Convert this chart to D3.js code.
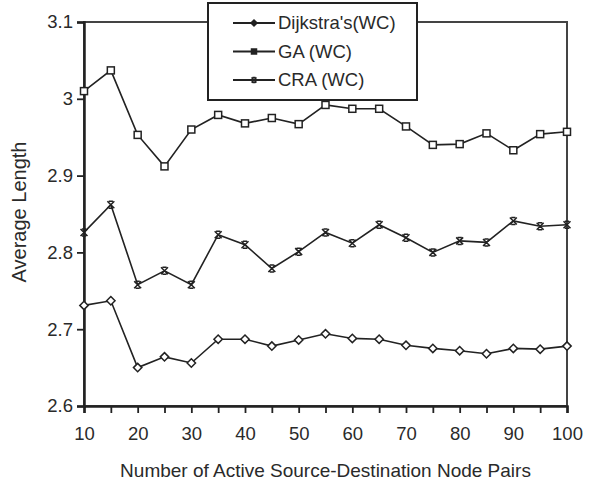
<!DOCTYPE html>
<html>
<head>
<meta charset="utf-8">
<script src="https://cdn.jsdelivr.net/npm/d3@7"></script>
<style>
  html, body { margin: 0; padding: 0; background: #fff; }
  svg { display: block; font-family: "Liberation Sans", Arial, sans-serif; }
</style>
</head>
<body>
<svg id="chart" width="592" height="486"></svg>
<script>
// data
const pairs = [10, 15, 20, 25, 30, 35, 40, 45, 50, 55, 60, 65, 70, 75, 80, 85, 90, 95, 100];
const dijkstra = [2.731, 2.737, 2.650, 2.664, 2.656, 2.687, 2.687, 2.678, 2.686, 2.694, 2.688, 2.687, 2.679, 2.675, 2.672, 2.668, 2.675, 2.674, 2.678];
const ga = [3.010, 3.037, 2.953, 2.912, 2.960, 2.979, 2.968, 2.975, 2.967, 2.992, 2.987, 2.987, 2.964, 2.940, 2.941, 2.955, 2.933, 2.954, 2.957];
const cra = [2.826, 2.862, 2.758, 2.776, 2.758, 2.823, 2.810, 2.779, 2.801, 2.826, 2.812, 2.836, 2.819, 2.800, 2.815, 2.813, 2.841, 2.834, 2.836];
const yTicks = [2.6, 2.7, 2.8, 2.9, 3.0, 3.1];
const xTicks = [10, 20, 30, 40, 50, 60, 70, 80, 90, 100];

const seriesList = [
  { name: "Dijkstra's(WC)", values: dijkstra, marker: 'diamond' },
  { name: 'GA (WC)', values: ga, marker: 'square' },
  { name: 'CRA (WC)', values: cra, marker: 'cross' }
];

const svg = d3.select('#chart');
const margin = { top: 22, right: 25, bottom: 80, left: 84 };
const width = 592 - margin.left - margin.right;
const height = 486 - margin.top - margin.bottom;
const ink = '#222';

const x = d3.scaleLinear().domain([10, 100]).range([0, width]);
const y = d3.scaleLinear().domain([2.6, 3.1]).range([height, 0]);

const g = svg.append('g').attr('transform', `translate(${margin.left},${margin.top})`);

// plot frame (top and right edges)
g.append('rect')
  .attr('x', 0).attr('y', 0)
  .attr('width', width).attr('height', height)
  .attr('fill', 'none').attr('stroke', '#444').attr('stroke-width', 2);

// x axis, ticks every 5, labels every 10
const xAxis = g.append('g')
  .attr('transform', `translate(0,${height})`)
  .call(d3.axisBottom(x)
    .tickValues(pairs)
    .tickSize(7)
    .tickPadding(14)
    .tickFormat(d => xTicks.includes(d) ? d : ''));

const yAxis = g.append('g')
  .call(d3.axisLeft(y)
    .tickValues(yTicks)
    .tickSize(7)
    .tickPadding(4)
    .tickFormat(d3.format('~g')));

[xAxis, yAxis].forEach(ax => {
  ax.select('.domain').attr('stroke', ink).attr('stroke-width', 2.5);
  ax.selectAll('.tick line').attr('stroke', ink).attr('stroke-width', 1.8);
  ax.selectAll('.tick text')
    .attr('fill', '#2a2a2a')
    .style('font-size', '18.5px')
    .style('font-family', '"Liberation Sans", Arial, sans-serif');
});

// axis titles
svg.append('text')
  .attr('x', margin.left + width / 2)
  .attr('y', 477)
  .attr('text-anchor', 'middle')
  .attr('fill', '#2a2a2a')
  .style('font-size', '19px')
  .text('Number of Active Source-Destination Node Pairs');

svg.append('text')
  .attr('transform', 'translate(26,212) rotate(-90)')
  .attr('text-anchor', 'middle')
  .attr('fill', '#2a2a2a')
  .style('font-size', '20px')
  .text('Average Length');

// marker shapes
function drawMarker(sel, type, size, fill) {
  if (type === 'square') {
    sel.append('rect')
      .attr('x', -size / 2).attr('y', -size / 2)
      .attr('width', size).attr('height', size)
      .attr('fill', fill).attr('stroke', ink).attr('stroke-width', 1.5);
  } else if (type === 'diamond') {
    const s = size * 0.6;
    sel.append('path')
      .attr('d', `M0,${-s}L${s},0L0,${s}L${-s},0Z`)
      .attr('fill', fill).attr('stroke', ink).attr('stroke-width', 1.5);
  } else {
    const s = size / 2;
    sel.append('path')
      .attr('d', `M${-s},${-s}L${s},${s}M${-s},${s}L${s},${-s}M${-s * 0.6},${-s}H${s * 0.6}M${-s * 0.6},${s}H${s * 0.6}`)
      .attr('fill', 'none').attr('stroke', ink).attr('stroke-width', 1.5);
  }
}

const line = d3.line()
  .x((d, i) => x(pairs[i]))
  .y(d => y(d));

seriesList.forEach(s => {
  g.append('path')
    .datum(s.values)
    .attr('d', line)
    .attr('fill', 'none')
    .attr('stroke', ink)
    .attr('stroke-width', 1.6);

  g.selectAll(null)
    .data(s.values)
    .join('g')
    .attr('transform', (d, i) => `translate(${x(pairs[i])},${y(d)})`)
    .each(function() { drawMarker(d3.select(this), s.marker, 7, '#fff'); });
});

// legend box over the top edge
const legend = svg.append('g').attr('transform', 'translate(208,3)');
legend.append('rect')
  .attr('width', 209).attr('height', 97)
  .attr('fill', '#fff').attr('stroke', ink).attr('stroke-width', 2);

seriesList.forEach((s, i) => {
  const row = legend.append('g').attr('transform', `translate(0,${20 + i * 28.5})`);
  row.append('line')
    .attr('x1', 25).attr('x2', 67)
    .attr('stroke', ink).attr('stroke-width', 1.8);
  const m = row.append('g').attr('transform', 'translate(46,0)');
  drawMarker(m, s.marker, 5, ink);
  row.append('text')
    .attr('x', 70)
    .attr('dy', '0.35em')
    .attr('fill', '#2a2a2a')
    .style('font-size', '18.5px')
    .text(s.name);
});
</script>
</body>
</html>
